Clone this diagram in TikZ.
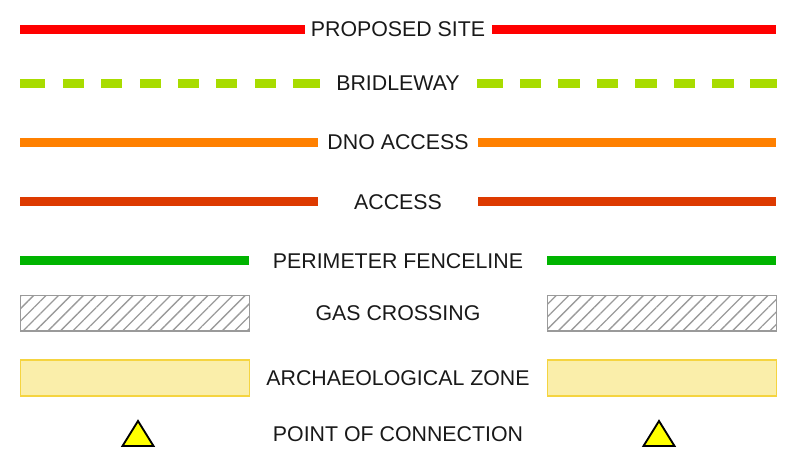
\documentclass[tikz,border=0pt]{standalone}
\usepackage{fontspec}
\setmainfont{Liberation Sans}
\usetikzlibrary{patterns.meta}

\definecolor{siteRed}{HTML}{FF0000}
\definecolor{bridleGreen}{HTML}{A8DC00}
\definecolor{dnoOrange}{HTML}{FF8000}
\definecolor{accessRed}{HTML}{DD3A00}
\definecolor{fenceGreen}{HTML}{00B400}
\definecolor{hatchGrey}{HTML}{9A9A9A}
\definecolor{zoneFill}{HTML}{FAEEAA}
\definecolor{zoneEdge}{HTML}{F5D440}
\definecolor{pocYellow}{HTML}{FFFF00}

\tikzset{
  lbl/.style={anchor=base, inner sep=0pt, text=black!90,
    font=\fontsize{16}{19}\selectfont},
  swatch/.style={line width=6.75pt},
  gasbox/.style={draw=hatchGrey, line width=1.2pt,
    pattern={Lines[angle=45,distance=6.6pt,line width=1pt]},
    pattern color=hatchGrey},
  zonebox/.style={draw=zoneEdge, fill=zoneFill, line width=1.1pt},
  poc/.style={draw=black, fill=pocYellow, line width=1.4pt, line join=miter}
}

\begin{document}
\begin{tikzpicture}[x=0.75pt,y=-0.75pt]
  \useasboundingbox (0,0) rectangle (810,466);

  % labels
  \node (S) [lbl] at (398,37)  {PROPOSED SITE};
  \node (B) [lbl] at (398,91)  {BRIDLEWAY};
  \node (D) [lbl] at (398,150) {DNO ACCESS};
  \node (A) [lbl] at (398,210) {ACCESS};
  \node (F) [lbl] at (398,269) {PERIMETER FENCELINE};
  \node (G) [lbl] at (398,321) {GAS CROSSING};
  \node (Z) [lbl] at (398,386) {ARCHAEOLOGICAL ZONE};
  \node (P) [lbl] at (398,441) {POINT OF CONNECTION};

  % line swatches
  \draw[swatch, siteRed] (20,29.5) -- (305,29.5) (492,29.5) -- (776,29.5);
  \foreach \a/\b in {20/45,63/84,101/122,140/161,178/199,216/237,255/276,293/320,
                     477/503,520/541,558/580,597/618,635/657,674/695,712/734,750/777}
    \draw[swatch, bridleGreen] (\a,83.5) -- (\b,83.5);
  \draw[swatch, dnoOrange] (20,142.5) -- (318,142.5) (478,142.5) -- (776,142.5);
  \draw[swatch, accessRed] (20,202) -- (318,202) (478,202) -- (776,202);
  \draw[swatch, fenceGreen] (20,260.5) -- (249,260.5) (547,260.5) -- (776,260.5);

  % area swatches
  \draw[gasbox] (20.5,295.5) rectangle (249.5,331);
  \draw[gasbox] (547.5,295.5) rectangle (776.5,331);
  \draw[zonebox] (20.5,360) rectangle (249.5,396);
  \draw[zonebox] (547.5,360) rectangle (776.5,396);

  % points of connection
  \draw[poc] (138,421) -- (122.5,446) -- (153.5,446) -- cycle;
  \draw[poc] (659,421) -- (643.5,446) -- (674.5,446) -- cycle;
\end{tikzpicture}
\end{document}
